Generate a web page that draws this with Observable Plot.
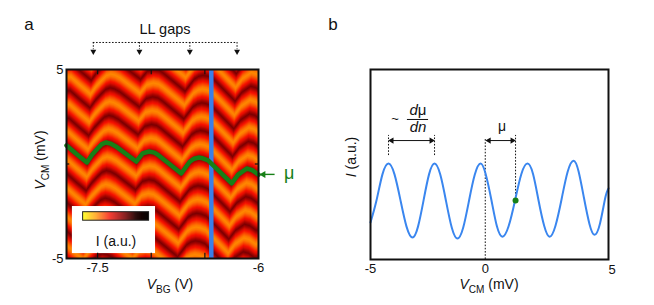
<!DOCTYPE html>
<html><head><meta charset="utf-8">
<script src="https://cdn.jsdelivr.net/npm/d3@7"></script>
<script src="https://cdn.jsdelivr.net/npm/@observablehq/plot@0.6"></script>
<style>
html,body{margin:0;padding:0;background:#fff;width:654px;height:305px;overflow:hidden}
#a,#b{position:absolute;top:0;width:327px;height:305px}
#a{left:0}#b{left:327px}
svg{overflow:visible}
</style></head><body><div id="a"></div><div id="b"></div>
<script>
const FONT = "Liberation Sans, Arial, sans-serif";

// Panel a: chemical potential trace (green line)
const muVBG = [-7.79,-7.70,-7.60,-7.55,-7.50,-7.46,-7.42,-7.38,-7.33,-7.14,-7.08,-7.02,-6.97,-6.93,-6.72,-6.64,-6.60,-6.56,-6.52,-6.47,-6.25,-6.19,-6.11,-6.06,-6.00];
const muVCM = [0.98,0.54,0.08,0.50,0.82,1.05,1.14,1.08,0.93,0.13,0.56,0.66,0.60,0.45,-0.50,0.13,0.28,0.34,0.30,0.19,-1.03,-0.56,-0.24,-0.32,-0.56];
// One period of the band brightness, starting at a dark band
const bandProfile = [63,55,45,38,31,25,22,25,31,38,45,55];
const bandPeriod = 1.46;   // mV
const bandShear = 0.008;   // V per mV
const gapVBG = [-7.54,-7.11,-6.64,-6.20];
const cutVBG = -6.44;
const colorRange = ["#ffff00","#ff9500","#f51000","#8a0000","#200000","#050505"];

// Panel b: line cut
const cutX = [-5,-4.74,-4.48,-4.215,-3.954,-3.69,-3.43,-3.17,-2.93,-2.69,-2.45,-2.21,-1.96,-1.71,-1.46,-1.21,-0.96,-0.71,-0.455,-0.205,0.02,0.27,0.505,0.75,1.02,1.30,1.57,1.84,2.085,2.32,2.57,2.805,3.06,3.33,3.59,3.85,4.07,4.30,4.54,4.76,5.0,5.23,5.37];
const cutI = [19.5,31,44.8,50.5,44.8,31,17.3,11.6,17.3,31,44.8,50.5,44.7,30.8,16.8,11,16.8,30.8,44.7,50.5,44.9,31.2,17.6,12,17.6,31.2,44.9,50.5,44.9,31.2,17.6,12,17.8,32,46.2,52,46.2,32.5,18.7,13,19,32.5,37.4];
const muValue = 1.32, muLevel = 31;
const periodMarks = [-4.215,-2.21];

// Text with mixed styles, [text, {style}] parts
function rich(parts, px, py, {size=12, rotate=0, anchor="middle", fill="#111"}={}) {
  return () => {
    const t = d3.create("svg:text")
      .attr("transform", `translate(${px},${py}) rotate(${rotate})`)
      .attr("text-anchor", anchor).attr("font-family", FONT).attr("font-size", size).attr("fill", fill);
    for (const [s, o={}] of parts) {
      const sp = t.append("tspan").text(s);
      if (o.i) sp.attr("font-style","italic");
      if (o.sub) sp.attr("font-size", size*0.72).attr("dy", size*0.25);
      if (o.up) sp.attr("dy", -size*0.25);
    }
    return t.node();
  };
}

// Panel a
const W = 192, H = 189;
const muAt = d3.scaleLinear(muVBG, muVCM);
const phase = d3.scaleLinear(d3.range(bandProfile.length+1), [...bandProfile, bandProfile[0]]);
const heat = [];
for (let r=0;r<H;r++) for (let c=0;c<W;c++) {
  const vbg = -7.79 + (c+0.5)/W*1.79, vcm = 5 - (r+0.5)/H*10;
  const m = muAt(Math.min(-6, Math.max(-7.79, vbg - bandShear*vcm)));
  let p = ((vcm - m)/bandPeriod) % 1; if (p<0) p+=1;
  heat.push(phase(p*bandProfile.length));
}
const mu = muVBG.map((x,i)=>({x,y:muVCM[i]}));
const barSteps = d3.range(0,100,1.5);
const yTop = 6.43, yTip = 5.85;

const pa = Plot.plot({
  width:327,height:305,marginLeft:66,marginRight:69,marginTop:69,marginBottom:47,
  style:{fontFamily:FONT,background:"transparent",overflow:"visible"},
  x:{domain:[-7.79,-6]}, y:{domain:[-5,5]},
  color:{type:"linear",domain:[0,100],interpolate:d3.piecewise(d3.interpolateRgb,colorRange)},
  marks:[
    Plot.raster(heat,{width:W,height:H,x1:-7.79,x2:-6,y1:5,y2:-5,imageRendering:"pixelated"}),
    Plot.ruleX([cutVBG],{stroke:"#3a7fe6",strokeWidth:4.5,y1:-5,y2:5}),
    Plot.line(mu,{x:"x",y:"y",stroke:"#178017",strokeWidth:4.5,curve:"linear",strokeLinejoin:"round"}),
    Plot.rect([0],{x1:-7.735,x2:-6.96,y1:-4.74,y2:-2.25,fill:"white"}),
    Plot.rectY(barSteps,{x1:d=>-7.635+d/100*0.615,x2:d=>-7.635+(d+1.6)/100*0.615,y1:-3.0,y2:-2.55,fill:d=>d}),
    Plot.rect([0],{x1:-7.635,x2:-7.02,y1:-3.0,y2:-2.55,stroke:"#222",strokeWidth:1,fill:"none"}),
    rich([["I (a.u.)"]],116,246,{size:14}),
    Plot.frame({stroke:"#111",strokeWidth:2}),
    Plot.ruleX([-7.5,-7,-6.5],{y1:5,y2:4.72,stroke:"#111",strokeWidth:1.2}),
    Plot.ruleX([-7.5,-7,-6.5],{y1:-5,y2:-4.72,stroke:"#111",strokeWidth:1.2}),
    Plot.ruleY([0],{x1:-7.79,x2:-7.76,stroke:"#111",strokeWidth:1.2}),
    Plot.ruleY([0],{x1:-6.03,x2:-6,stroke:"#111",strokeWidth:1.2}),
    Plot.axisX({ticks:[-7.5,-6],tickSize:0,tickPadding:4,tickFormat:d=>String(d),fontSize:13,label:null,fill:"#111"}),
    Plot.axisY({ticks:[-5,5],tickSize:0,tickPadding:3,tickFormat:d=>String(d),fontSize:13,label:null,fill:"#111"}),
    rich([["V",{i:1}],["BG",{sub:1}],[" (V)",{up:1}]],170,289,{size:14}),
    rich([["V",{i:1}],["CM",{sub:1}],[" (mV)",{up:1}]],45,160,{size:14,rotate:-90}),
    rich([["a"]],29,30,{size:17}),
    rich([["LL gaps"]],165,34,{size:14.5}),
    Plot.ruleY([yTop],{x1:gapVBG[0],x2:gapVBG[3],stroke:"#111",strokeWidth:1,strokeDasharray:"1.6 1.6"}),
    Plot.ruleX(gapVBG,{y1:yTop,y2:yTip+0.2,stroke:"#111",strokeWidth:1,strokeDasharray:"1.6 1.6"}),
    Plot.dot(gapVBG,{x:d=>d,y:yTip+0.1,symbol:"triangle",rotate:180,r:2.2,fill:"#111",stroke:"none"}),
    Plot.link([0],{x1:-5.85,x2:-5.95,y1:-0.55,y2:-0.55,stroke:"#178017",strokeWidth:1.4}),
    Plot.dot([0],{x:-5.955,y:-0.55,symbol:"triangle",rotate:-90,r:2.6,fill:"#178017",stroke:"none"}),
    rich([["μ"]],284,179,{size:18,anchor:"start",fill:"#178017"})
  ]
});
document.getElementById("a").append(pa);

// Panel b
const cut = cutX.map((x,i)=>({x,y:cutI[i]}));
const arrowY = 62.6;
const pb = Plot.plot({
  width:327,height:305,marginLeft:43,marginRight:46,marginTop:69,marginBottom:46,
  style:{fontFamily:FONT,background:"transparent",overflow:"visible"},
  x:{domain:[-5,5.37]}, y:{domain:[0,100],axis:null},
  marks:[
    Plot.ruleX([0],{y1:0,y2:63.7,stroke:"#111",strokeWidth:1,strokeDasharray:"1.6 1.6"}),
    Plot.ruleX([muValue],{y1:muLevel,y2:65.3,stroke:"#111",strokeWidth:1,strokeDasharray:"1.6 1.6"}),
    Plot.ruleX(periodMarks,{y1:54.7,y2:65.3,stroke:"#111",strokeWidth:1,strokeDasharray:"1.6 1.6"}),
    Plot.line(cut,{x:"x",y:"y",stroke:"#3a86ef",strokeWidth:2,curve:"natural"}),
    Plot.dot([0],{x:muValue,y:muLevel,r:3,fill:"#178017",stroke:"none"}),
    Plot.link([0],{x1:periodMarks[0]+0.12,x2:periodMarks[1]-0.12,y1:arrowY,y2:arrowY,stroke:"#111",strokeWidth:1}),
    Plot.dot([periodMarks[0]+0.14],{x:d=>d,y:arrowY,symbol:"triangle",rotate:-90,r:2.3,fill:"#111",stroke:"none"}),
    Plot.dot([periodMarks[1]-0.14],{x:d=>d,y:arrowY,symbol:"triangle",rotate:90,r:2.3,fill:"#111",stroke:"none"}),
    Plot.link([0],{x1:0.12,x2:muValue-0.12,y1:arrowY,y2:arrowY,stroke:"#111",strokeWidth:1}),
    Plot.dot([0.16],{x:d=>d,y:arrowY,symbol:"triangle",rotate:-90,r:2.3,fill:"#111",stroke:"none"}),
    Plot.dot([muValue-0.14],{x:d=>d,y:arrowY,symbol:"triangle",rotate:90,r:2.3,fill:"#111",stroke:"none"}),
    Plot.frame({stroke:"#111",strokeWidth:2}),
    Plot.axisX({ticks:[-5,0],tickSize:0,tickPadding:4,tickFormat:d=>String(d),fontSize:13,label:null,fill:"#111"}),
    rich([["5"]],285,274,{size:13}),
    rich([["V",{i:1}],["CM",{sub:1}],[" (mV)",{up:1}]],162,289,{size:14}),
    rich([["I",{i:1}],[" (a.u.)"]],29,157,{size:14,rotate:-90}),
    rich([["b"]],6,30,{size:17}),
    rich([["~"]],68,123,{size:13}),
    rich([["d",{i:1}],["μ"]],91,115,{size:15}),
    Plot.ruleY([73.7],{x1:-3.39,x2:-2.47,stroke:"#111",strokeWidth:1}),
    rich([["dn",{i:1}]],91,132,{size:15}),
    rich([["μ"]],175,131,{size:14})
  ]
});
document.getElementById("b").append(pb);
</script></body></html>
